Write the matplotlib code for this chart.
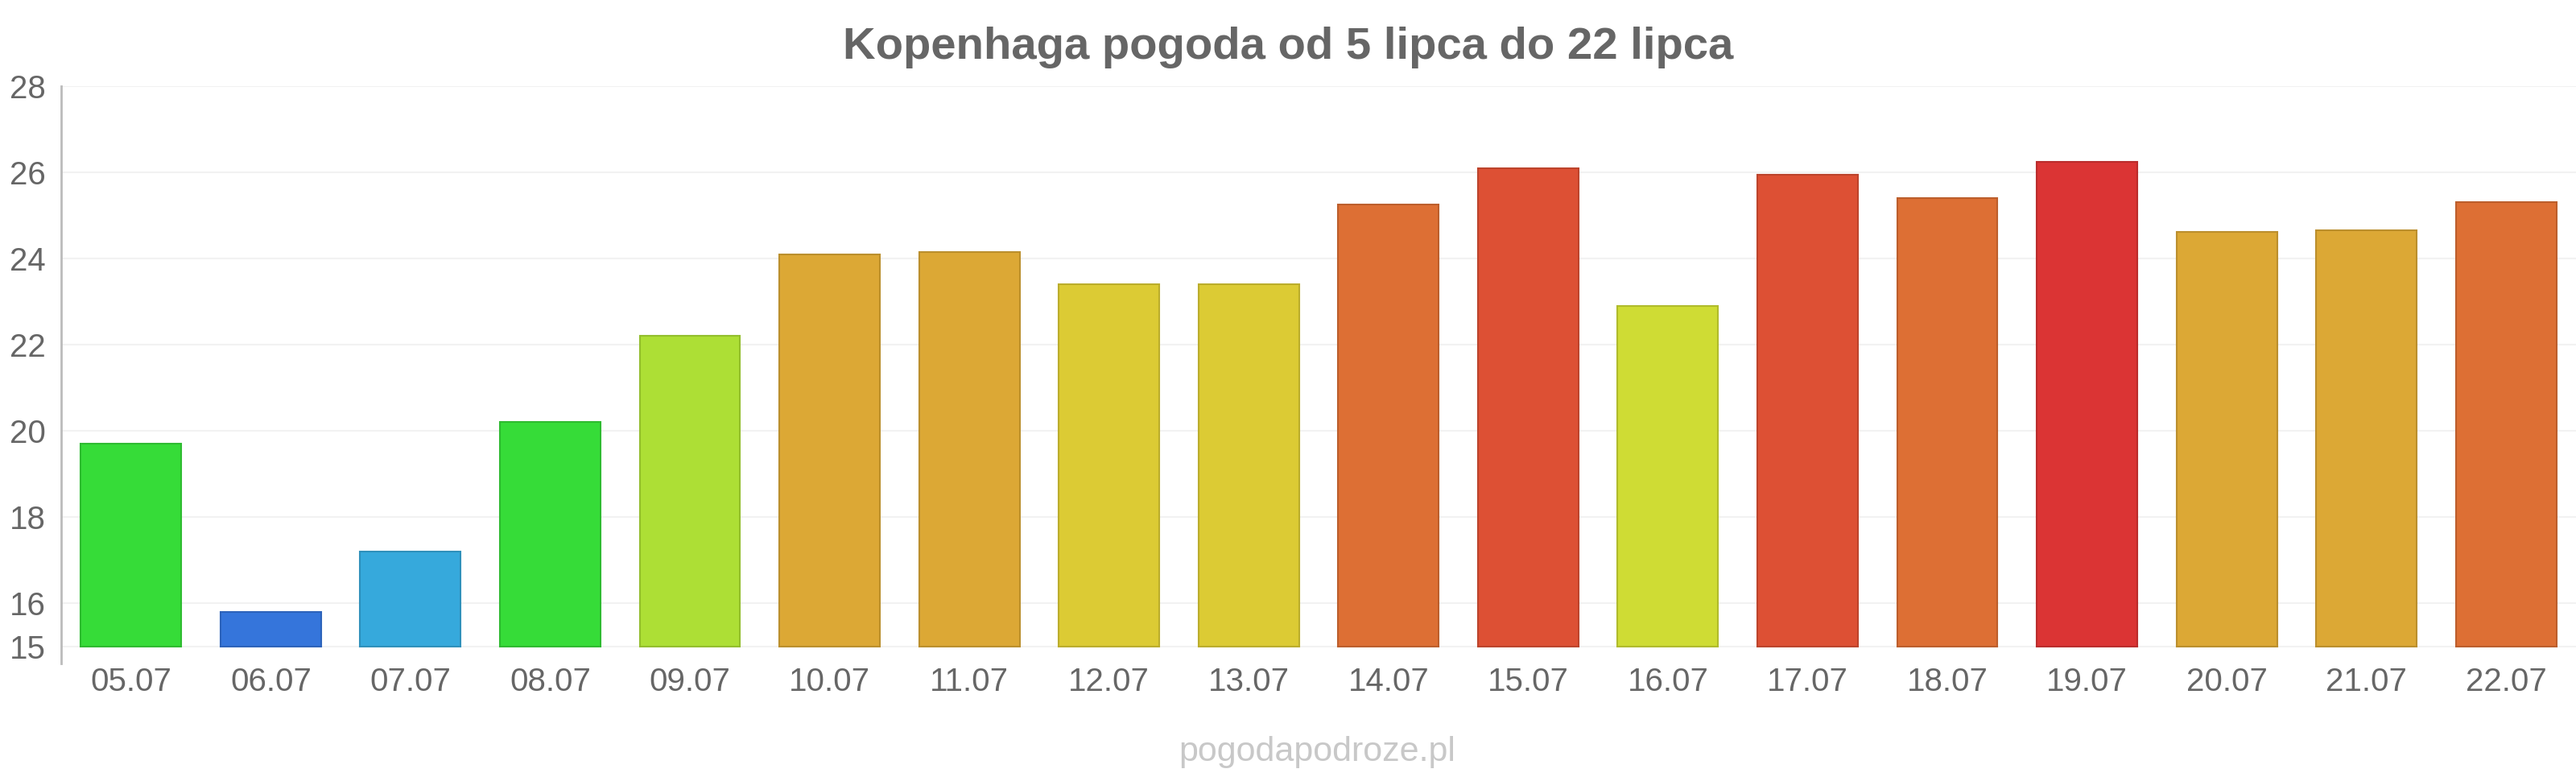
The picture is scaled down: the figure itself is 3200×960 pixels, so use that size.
import matplotlib
matplotlib.use("Agg")
import matplotlib.pyplot as plt
import matplotlib.colors as mcolors

dates = ["05.07", "06.07", "07.07", "08.07", "09.07", "10.07", "11.07", "12.07", "13.07",
         "14.07", "15.07", "16.07", "17.07", "18.07", "19.07", "20.07", "21.07", "22.07"]
temps = [19.7, 15.8, 17.2, 20.2, 22.2, 24.1, 24.15, 23.4, 23.4,
         25.25, 26.1, 22.9, 25.95, 25.4, 26.25, 24.62, 24.65, 25.3]
colors = ["#36dc38", "#3575db", "#36a9dc", "#36dc38", "#addf35", "#dca835", "#dca835",
          "#dccb34", "#dccb34", "#dd6f34", "#dd5034", "#cfdc34", "#dd5034", "#dd6f34",
          "#db3434", "#dca835", "#dca835", "#dd6f34"]
yticks = [15, 16, 18, 20, 22, 24, 26, 28]
title = "Kopenhaga pogoda od 5 lipca do 22 lipca"
watermark = "pogodapodroze.pl"

plt.rcParams['font.family'] = ['Liberation Sans', 'DejaVu Sans']

fig = plt.figure(figsize=(32, 9.6), dpi=100)
ax = fig.add_axes([76 / 3200, 136 / 960, 1 - 76 / 3200, (824 - 107) / 960])

base = 15
x = list(range(len(dates)))
heights = [t - base for t in temps]
edges = []
for c in colors:
    r, g, b = mcolors.to_rgb(c)
    edges.append((r * 0.85, g * 0.85, b * 0.85))
ax.bar(x, heights, bottom=base, width=0.72, color=colors, edgecolor=edges, linewidth=1.5, zorder=3)

ax.set_xlim(-0.5, len(dates) - 0.5)
ax.set_ylim(14.6, 28)
ax.set_yticks(yticks)
ax.set_yticklabels([str(v) for v in yticks])
ax.set_xticks(x)
ax.set_xticklabels(dates)
ax.tick_params(axis='both', length=0, labelsize=29, colors="#666666")
ax.tick_params(axis='x', pad=3)
ax.tick_params(axis='y', pad=14)
ax.grid(axis='y', color="#f2f2f2", linewidth=1.5, zorder=0)
for s in ["top", "right", "bottom"]:
    ax.spines[s].set_visible(False)
ax.spines["left"].set_color("#bbbbbb")
ax.spines["left"].set_linewidth(2)

fig.text(0.5, 1 - 73 / 960, title, ha="center", va="baseline", fontsize=40.5,
         fontweight="bold", color="#666666")
fig.text(1636 / 3200, 1 - 945 / 960, watermark, ha="center", va="baseline", fontsize=31,
         color="#c8c8c8")

fig.savefig("out.png", dpi=100, facecolor="white")
